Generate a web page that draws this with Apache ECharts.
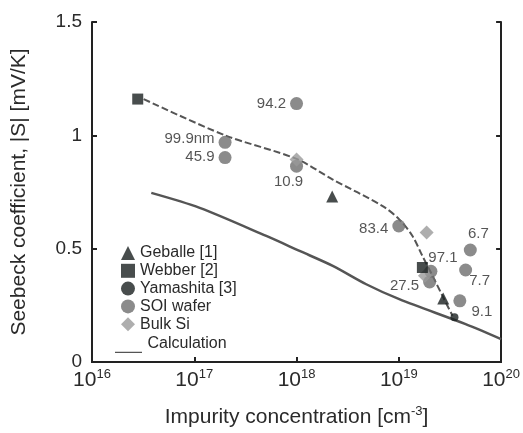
<!DOCTYPE html>
<html>
<head>
<meta charset="utf-8">
<script src="https://cdn.jsdelivr.net/npm/echarts@6/dist/echarts.min.js"></script>
<style>
  html, body { margin: 0; padding: 0; background: #fff; }
  #chart { width: 523px; height: 433px; }
</style>
</head>
<body>
<div id="chart"></div>
<script>
// impurity concentration [cm^-3], |S| [mV/K]
var geballe = [[2.23e18, 0.73], [2.72e19, 0.28]];
var webber = [[2.8e16, 1.16], [1.7e19, 0.417]];
var yamashita = [[3.5e19, 0.197]];
var bulkSi = [[1e18, 0.893], [1.87e19, 0.571], [1.8e19, 0.38]];

// SOI wafer points, labelled with film thickness
var soiThickness = ['94.2', '99.9nm', '45.9', '10.9', '83.4', '97.1', '27.5', '6.7', '7.7', '9.1'];
var soiConc = [1e18, 2e17, 2e17, 1e18, 1e19, 2.06e19, 2.0e19, 5.0e19, 4.5e19, 3.95e19];
var soiS = [1.14, 0.969, 0.902, 0.864, 0.60, 0.40, 0.353, 0.494, 0.406, 0.27];

// guide curve through the data (dashed)
var guideConc = [3.2e16, 2e17, 1e18, 2.26e18, 6.95e18, 1.01e19, 1.36e19, 1.7e19, 2.14e19, 2.67e19, 3.35e19];
var guideS = [1.16, 1.0, 0.896, 0.805, 0.688, 0.629, 0.556, 0.468, 0.38, 0.292, 0.204];

// calculation (solid)
var calcConc = [3.8e16, 1.13e17, 5.06e17, 1.07e18, 2.26e18, 4.8e18, 1.01e19, 4.5e19, 1e20];
var calcS = [0.746, 0.68, 0.556, 0.49, 0.424, 0.343, 0.277, 0.167, 0.101];

var labelLayout = {
  '94.2':   { position: 'left', offset: [0, 0] },
  '99.9nm': { position: 'left', offset: [0, -4] },
  '45.9':   { position: 'left', offset: [0, -1] },
  '10.9':   { position: 'bottom', offset: [-8, -2] },
  '83.4':   { position: 'left', offset: [0, 3] },
  '97.1':   { position: 'top', offset: [12, 5] },
  '27.5':   { position: 'left', offset: [0, 4] },
  '6.7':    { position: 'top', offset: [8, 2] },
  '7.7':    { position: 'bottom', offset: [14, -7] },
  '9.1':    { position: 'bottom', offset: [22, -7] }
};

function zip(a, b) {
  return a.map(function (v, i) { return [v, b[i]]; });
}

var FONT = 'Liberation Sans';
var INK = '#222';
var TXT = '#2a2a2a';

var soiData = soiThickness.map(function (t, i) {
  var l = labelLayout[t];
  return {
    name: t,
    value: [soiConc[i], soiS[i]],
    label: { position: l.position, offset: l.offset }
  };
});

var chart = echarts.init(document.getElementById('chart'));

chart.setOption({
  animation: false,
  textStyle: { fontFamily: FONT },
  grid: { left: 92, right: 21, top: 22, bottom: 70 },
  legend: [{
    orient: 'vertical',
    left: 116,
    top: 240,
    itemWidth: 14,
    itemHeight: 14,
    itemGap: 1.8,
    textStyle: { fontSize: 16, color: TXT, fontFamily: FONT },
    data: [
      { name: 'Geballe [1]', icon: 'triangle' },
      { name: 'Webber [2]', icon: 'rect' },
      { name: 'Yamashita [3]', icon: 'circle' },
      { name: 'SOI wafer', icon: 'circle' },
      { name: 'Bulk Si', icon: 'diamond' }
    ]
  }, {
    orient: 'vertical',
    left: 110,
    top: 330,
    itemWidth: 28,
    itemHeight: 18,
    textStyle: { fontSize: 16, color: TXT, fontFamily: FONT },
    data: [{
      name: 'Calculation',
      icon: 'path://M0,0 L0.01,0 L0.01,0.01 Z M0,18.6 L30,18.6 L30,20 L0,20 Z'
    }]
  }],
  xAxis: [{
    type: 'log',
    logBase: 10,
    min: 1e16,
    max: 1e20,
    name: 'Impurity concentration [cm{sup|-3}]',
    nameLocation: 'middle',
    nameGap: 43,
    nameTextStyle: {
      fontSize: 21, color: TXT,
      rich: { sup: { fontSize: 13, padding: [0, 0, 12, 0], color: TXT } }
    },
    axisLine: { lineStyle: { color: INK, width: 2 } },
    axisTick: { inside: true, length: 5, lineStyle: { color: INK, width: 2 } },
    minorTick: { show: false },
    splitLine: { show: false },
    axisLabel: {
      margin: 6,
      formatter: function (v) {
        return '{b|10}{s|' + Math.round(Math.log10(v)) + '}';
      },
      rich: {
        b: { fontSize: 21, color: TXT },
        s: { fontSize: 13, color: TXT, padding: [0, 0, 12, 0] }
      }
    }
  }, {
    type: 'log',
    logBase: 10,
    min: 1e16,
    max: 1e20,
    position: 'top',
    axisLine: { lineStyle: { color: INK, width: 2 } },
    axisTick: { show: false },
    axisLabel: { show: false },
    splitLine: { show: false }
  }],
  yAxis: [{
    type: 'value',
    min: 0,
    max: 1.5,
    interval: 0.5,
    name: 'Seebeck coefficient, |S| [mV/K]',
    nameLocation: 'middle',
    nameGap: 62,
    nameTextStyle: { fontSize: 21, color: TXT },
    axisLine: { show: true, lineStyle: { color: INK, width: 2 } },
    axisTick: { show: true, inside: true, length: 5, lineStyle: { color: INK, width: 2 } },
    axisLabel: { fontSize: 19, color: TXT, margin: 10 },
    splitLine: { show: false }
  }, {
    type: 'value',
    min: 0,
    max: 1.5,
    interval: 0.5,
    position: 'right',
    axisLine: { show: true, lineStyle: { color: INK, width: 2 } },
    axisTick: { show: true, inside: true, length: 5, lineStyle: { color: INK, width: 2 } },
    axisLabel: { show: false },
    splitLine: { show: false }
  }],
  series: [{
    name: 'Calculation',
    type: 'line',
    data: zip(calcConc, calcS),
    smooth: 0.3,
    showSymbol: false,
    color: '#555',
    lineStyle: { color: '#555', width: 2.5 },
    z: 1
  }, {
    name: 'guide',
    type: 'line',
    data: zip(guideConc, guideS),
    smooth: 0.3,
    showSymbol: false,
    lineStyle: { color: '#555', width: 2, type: [7, 3] },
    z: 1
  }, {
    name: 'SOI wafer',
    type: 'scatter',
    symbol: 'circle',
    symbolSize: 13,
    color: '#6e6e6e',
    data: soiData,
    label: {
      show: true,
      formatter: '{b}',
      fontSize: 15,
      color: TXT,
      distance: 4
    },
    z: 3
  }, {
    name: 'Bulk Si',
    type: 'scatter',
    symbol: 'diamond',
    symbolSize: 14,
    color: '#9a9a9a',
    data: bulkSi,
    z: 4
  }, {
    name: 'Webber [2]',
    type: 'scatter',
    symbol: 'rect',
    symbolSize: 11,
    color: '#1a2020',
    data: webber,
    z: 5
  }, {
    name: 'Geballe [1]',
    type: 'scatter',
    symbol: 'triangle',
    symbolSize: 12,
    color: '#1a2020',
    data: geballe,
    z: 5
  }, {
    name: 'Yamashita [3]',
    type: 'scatter',
    symbol: 'circle',
    symbolSize: 8,
    color: '#1a2020',
    data: yamashita,
    z: 5
  }]
});
</script>
</body>
</html>
